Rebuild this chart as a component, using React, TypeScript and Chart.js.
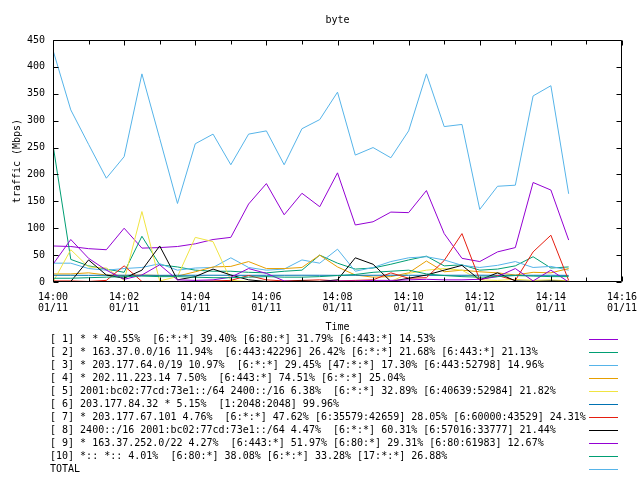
import React, { useEffect, useRef } from 'react';
import { Chart, registerables } from 'chart.js';

Chart.register(...registerables);

const MONO = '"DejaVu Sans Mono", "Liberation Mono", monospace';

// time offsets (seconds after 14:00, 01/11)
const timeSec = [0, 30, 60, 90, 120, 150, 180, 210, 240, 270, 300, 330, 360, 390, 420, 450, 480, 510, 540, 570, 600, 630, 660, 690, 720, 750, 780, 810, 840, 870];

// traffic (Mbps) per series
const s1 = [67, 66, 62, 60, 100, 63, 64, 66, 71, 79, 83, 145, 183, 125, 165, 140, 203, 106, 112, 130, 129, 170, 90, 44, 38, 56, 64, 185, 171, 78];
const s2 = [255, 42, 30, 24, 18, 85, 32, 28, 22, 20, 20, 18, 17, 20, 22, 50, 35, 24, 26, 33, 41, 48, 30, 32, 22, 24, 30, 47, 26, 28];
const s3 = [35, 35, 25, 22, 25, 27, 34, 22, 26, 27, 45, 27, 22, 24, 41, 35, 61, 20, 27, 38, 45, 47, 41, 31, 27, 31, 38, 27, 29, 22];
const s4 = [15, 15, 17, 13, 12, 13, 12, 11, 19, 28, 29, 38, 25, 25, 27, 50, 28, 13, 9, 10, 17, 39, 19, 22, 19, 17, 13, 18, 17, 25];
const s5 = [0, 60, 28, 26, 3, 131, 2, 10, 83, 75, 3, 1, 1, 1, 1, 1, 1, 2, 1, 1, 16, 22, 25, 22, 4, 3, 5, 3, 4, 2];
const s6 = [12.5, 12.5, 12.4, 12.5, 12.6, 12.5, 12.4, 12.5, 12.5, 12.6, 12.5, 12.4, 12.5, 12.5, 12.6, 12.5, 12.4, 12.5, 12.5, 12.6, 12.5, 12.4, 12.5, 12.5, 12.6, 12.5, 12.4, 12.5, 12.5, 12.3];
const s7 = [2, 2, 1, 3, 30, 1, 1, 1, 1, 2, 3, 12, 4, 2, 3, 4, 2, 3, 4, 17, 7, 8, 40, 90, 4, 12, 3, 56, 87, 3];
const s8 = [0, 1, 41, 13, 7, 22, 67, 4, 10, 24, 13, 4, 1, 1, 2, 1, 4, 45, 33, 1, 7, 13, 22, 31, 4, 17, 2, 1, 2, 1];
const s9 = [33, 79, 44, 22, 5, 13, 32, 4, 3, 4, 9, 25, 16, 2, 0, 1, 2, 2, 3, 3, 4, 5, 4, 4, 5, 10, 25, 2, 22, 0];
const s10 = [7, 7, 8, 9, 10, 11, 10, 10, 9, 8, 8, 9, 10, 9, 9, 10, 12, 14, 18, 20, 22, 15, 12, 10, 9, 10, 12, 11, 10, 10];
const total = [431, 320, 256, 193, 233, 387, 267, 146, 257, 275, 218, 275, 281, 218, 285, 302, 353, 236, 250, 231, 281, 387, 289, 293, 135, 178, 180, 346, 365, 164];

const seriesValues = [s1, s2, s3, s4, s5, s6, s7, s8, s9, s10, total];

const seriesLabels = [
  '[ 1] * * 40.55%  [6:*:*] 39.40% [6:80:*] 31.79% [6:443:*] 14.53%',
  '[ 2] * 163.37.0.0/16 11.94%  [6:443:42296] 26.42% [6:*:*] 21.68% [6:443:*] 21.13%',
  '[ 3] * 203.177.64.0/19 10.97%  [6:*:*] 29.45% [47:*:*] 17.30% [6:443:52798] 14.96%',
  '[ 4] * 202.11.223.14 7.50%  [6:443:*] 74.51% [6:*:*] 25.04%',
  '[ 5] 2001:bc02:77cd:73e1::/64 2400::/16 6.38%  [6:*:*] 32.89% [6:40639:52984] 21.82%',
  '[ 6] 203.177.84.32 * 5.15%  [1:2048:2048] 99.96%',
  '[ 7] * 203.177.67.101 4.76%  [6:*:*] 47.62% [6:35579:42659] 28.05% [6:60000:43529] 24.31%',
  '[ 8] 2400::/16 2001:bc02:77cd:73e1::/64 4.47%  [6:*:*] 60.31% [6:57016:33777] 21.44%',
  '[ 9] * 163.37.252.0/22 4.27%  [6:443:*] 51.97% [6:80:*] 29.31% [6:80:61983] 12.67%',
  '[10] *:: *:: 4.01%  [6:80:*] 38.08% [6:*:*] 33.28% [17:*:*] 26.88%',
  'TOTAL',
];

const seriesColors = ['#9400d3', '#009e73', '#56b4e9', '#e69f00', '#f0e442', '#0072b2', '#e51e10', '#000000', '#9400d3', '#009e73', '#56b4e9'];

const xTickLabels = ['14:00', '14:02', '14:04', '14:06', '14:08', '14:10', '14:12', '14:14', '14:16'];
const xDateLabel = '01/11';
const xMaxSec = 960;
const xMinorStepSec = 60;
const xLabelStepSec = 120;
const yMax = 450;
const yStep = 50;

const chartTitle = 'byte';
const xTitle = 'Time';
const yTitle = 'traffic (Mbps)';

const gnuplotFrame = {
  id: 'gnuplotFrame',
  afterDatasetsDraw(chart: any) {
    const { ctx, chartArea, scales } = chart;
    const { left, right, top, bottom } = chartArea;
    const xs = scales.x;
    const ys = scales.y;
    ctx.save();
    ctx.strokeStyle = '#000';
    ctx.lineWidth = 1;
    const L = Math.round(left) + 0.5;
    const R = Math.round(right) - 0.5;
    const T = Math.round(top) + 0.5;
    const B = Math.round(bottom) - 0.5;
    ctx.beginPath();
    ctx.rect(L, T, R - L, B - T);
    for (let v = 0; v <= yMax; v += yStep) {
      const py = Math.round(ys.getPixelForValue(v)) + 0.5;
      ctx.moveTo(L, py);
      ctx.lineTo(L + 5, py);
      ctx.moveTo(R, py);
      ctx.lineTo(R - 5, py);
    }
    for (let t = 0; t <= xMaxSec; t += xMinorStepSec) {
      const px = Math.round(xs.getPixelForValue(t)) + 0.5;
      const len = t % xLabelStepSec === 0 ? 5 : 4;
      ctx.moveTo(px, B);
      ctx.lineTo(px, B - len);
      ctx.moveTo(px, T);
      ctx.lineTo(px, T + len);
    }
    ctx.stroke();
    ctx.restore();
  },
  afterDraw(chart: any) {
    const { ctx } = chart;
    ctx.save();
    ctx.font = '10px ' + MONO;
    ctx.textBaseline = 'middle';
    ctx.textAlign = 'left';
    chart.data.datasets.forEach((ds: any, i: number) => {
      const y = 339 + 13 * i;
      ctx.fillStyle = '#000';
      ctx.fillText(ds.label, 50, y);
      ctx.strokeStyle = ds.borderColor;
      ctx.lineWidth = 1;
      ctx.beginPath();
      ctx.moveTo(589, y + 0.5);
      ctx.lineTo(618, y + 0.5);
      ctx.stroke();
    });
    ctx.restore();
  },
};

export default function App() {
  const canvasRef = useRef<HTMLCanvasElement | null>(null);

  useEffect(() => {
    const canvas = canvasRef.current;
    if (!canvas) return;
    const datasets = seriesValues.map((vals, i) => ({
      label: seriesLabels[i],
      data: vals.map((v, j) => ({ x: timeSec[j], y: v })),
      borderColor: seriesColors[i],
      backgroundColor: seriesColors[i],
      borderWidth: 1,
      pointRadius: 0,
      tension: 0,
      fill: false,
      order: seriesValues.length - i,
    }));
    const chart = new Chart(canvas, {
      type: 'line',
      data: { datasets },
      plugins: [gnuplotFrame],
      options: {
        responsive: false,
        animation: false,
        devicePixelRatio: 1,
        layout: { padding: { left: 0, right: 18, top: 0, bottom: 147 } },
        plugins: {
          legend: { display: false },
          tooltip: { enabled: false },
          title: {
            display: true,
            text: chartTitle,
            fullSize: false,
            color: '#000',
            font: { family: MONO, size: 10, weight: 'normal', lineHeight: 1.2 },
            padding: { top: 14, bottom: 14 },
          },
        },
        scales: {
          x: {
            type: 'linear',
            min: 0,
            max: xMaxSec,
            afterFit: (s: any) => {
              s.height = 51;
              s.paddingLeft = 0;
              s.paddingRight = 0;
            },
            grid: { display: false, drawTicks: false },
            border: { display: false },
            ticks: {
              stepSize: xMinorStepSec,
              autoSkip: false,
              maxRotation: 0,
              minRotation: 0,
              padding: 9.5,
              color: '#000',
              font: { family: MONO, size: 10, lineHeight: 1.1 },
              callback: (value: any) => {
                const v = Number(value);
                if (v % xLabelStepSec !== 0) return '';
                return [xTickLabels[v / xLabelStepSec], xDateLabel];
              },
            },
            title: {
              display: true,
              text: xTitle,
              color: '#000',
              font: { family: MONO, size: 10, lineHeight: 1.2 },
              padding: 0,
            },
          },
          y: {
            min: 0,
            max: yMax,
            afterFit: (s: any) => {
              s.width = 53;
              s.paddingTop = 0;
              s.paddingBottom = 0;
            },
            grid: { display: false, drawTicks: false },
            border: { display: false },
            ticks: {
              stepSize: yStep,
              padding: 8,
              color: '#000',
              font: { family: MONO, size: 10, lineHeight: 1.2 },
            },
            title: {
              display: true,
              text: yTitle,
              color: '#000',
              font: { family: MONO, size: 10, lineHeight: 1.2 },
              padding: { top: 11, bottom: 0 },
            },
          },
        },
      },
    } as any);
    return () => chart.destroy();
  }, []);

  return (
    <div style={{ position: 'absolute', left: 0, top: 0, width: 640, height: 480, background: '#fff' }}>
      <canvas ref={canvasRef} width={640} height={480} style={{ width: 640, height: 480, display: 'block' }} />
    </div>
  );
}
